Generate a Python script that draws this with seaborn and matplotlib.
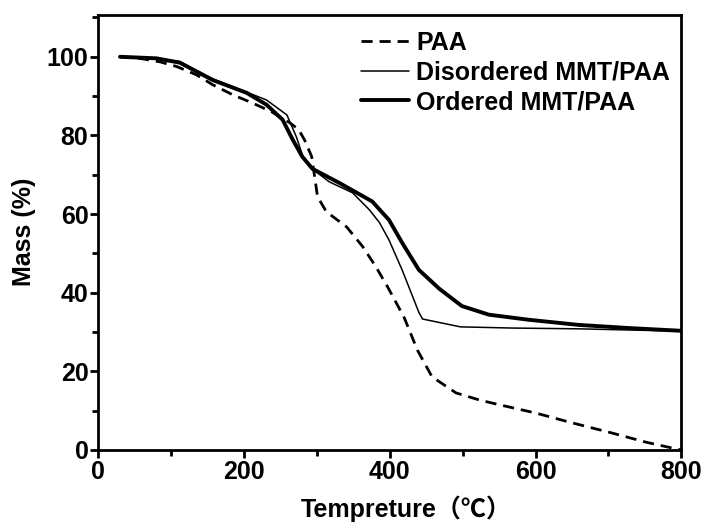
import numpy as np
import pandas as pd
import matplotlib
matplotlib.use("Agg")
import matplotlib.pyplot as plt
import seaborn as sns
from matplotlib.ticker import MultipleLocator

# === Data ===
paa_t = [30, 60, 85, 108, 135, 157, 185, 211, 238, 263, 275, 283, 293, 301, 313, 341,
         363, 381, 397, 409, 420, 438, 458, 491, 523, 550, 600, 650, 705, 751, 787, 800]
paa_m = [100, 99.5, 98.7, 97.5, 95.4, 92.9, 90.3, 88.3, 86.0, 83.2, 81.5, 78.9, 74.6, 64.4, 60.6, 56.7,
         51.7, 46.6, 41.5, 37.4, 33.6, 25.4, 18.6, 14.5, 12.7, 11.5, 9.4, 6.9, 4.3, 2.0, 0.5, 0.0]

dis_t = [30, 80, 112, 157, 204, 231, 259, 272, 281, 290, 317, 349, 372, 386, 399, 417,
         440, 445, 497, 568, 660, 730, 800]
dis_m = [100, 99.6, 98.8, 94.4, 91.0, 89.0, 85.2, 79.6, 74.6, 72.0, 68.2, 65.4, 61.1, 57.8, 53.4, 45.8,
         35.0, 33.3, 31.3, 31.0, 30.8, 30.5, 30.2]

ord_t = [30, 80, 112, 157, 204, 231, 253, 267, 280, 294, 331, 376, 399, 417, 440, 468,
         499, 536, 591, 659, 728, 800]
ord_m = [100, 99.6, 98.5, 94.1, 90.8, 87.8, 84.0, 78.9, 74.6, 71.5, 67.9, 63.2, 58.5, 52.7, 45.8, 41.0,
         36.6, 34.4, 33.1, 31.8, 31.0, 30.3]

labels = ["PAA", "Disordered MMT/PAA", "Ordered MMT/PAA"]

df = pd.concat([
    pd.DataFrame({"T": paa_t, "Mass": paa_m, "Sample": labels[0]}),
    pd.DataFrame({"T": dis_t, "Mass": dis_m, "Sample": labels[1]}),
    pd.DataFrame({"T": ord_t, "Mass": ord_m, "Sample": labels[2]}),
])

# === Style ===
sns.set_style("ticks")
plt.rcParams["font.family"] = ["Liberation Sans", "Noto Sans CJK SC", "DejaVu Sans"]
plt.rcParams["font.weight"] = "bold"
plt.rcParams["axes.linewidth"] = 2.0
for key in ["text.color", "axes.labelcolor", "xtick.color", "ytick.color", "axes.edgecolor"]:
    plt.rcParams[key] = "black"

fig = plt.figure(figsize=(7.06, 5.25), dpi=100)
ax = fig.add_axes([0.139, 0.143, 0.826, 0.829])

styles = {
    labels[0]: dict(lw=2.0, ls=(0, (4, 2.5))),
    labels[1]: dict(lw=1.1, ls="-"),
    labels[2]: dict(lw=2.8, ls="-"),
}
for name in labels:
    sub = df[df["Sample"] == name]
    sns.lineplot(data=sub, x="T", y="Mass", ax=ax, color="black", label=name,
                 estimator=None, sort=False, **styles[name])

ax.set_xlim(0, 800)
ax.set_ylim(0, 110.7)
ax.xaxis.set_major_locator(MultipleLocator(200))
ax.xaxis.set_minor_locator(MultipleLocator(100))
ax.yaxis.set_major_locator(MultipleLocator(20))
ax.yaxis.set_minor_locator(MultipleLocator(10))
ax.tick_params(which="major", direction="out", length=6, width=2, labelsize=18, pad=1)
ax.tick_params(which="minor", direction="out", length=4, width=2)
ax.tick_params(which="both", right=False, top=False)
for lab in ax.get_xticklabels() + ax.get_yticklabels():
    lab.set_fontweight("bold")

ax.set_xlabel("Tempreture（℃）", fontsize=18, fontweight="bold")
ax.xaxis.set_label_coords(0.528, -0.105)
ax.set_ylabel("Mass (%)", fontsize=18, fontweight="bold", labelpad=8)

leg = ax.legend(loc="upper left", bbox_to_anchor=(0.451, 0.962), frameon=False,
                handlelength=1.9, handletextpad=0.3, labelspacing=0.22, borderpad=0,
                borderaxespad=0, prop={"weight": "bold", "size": 18})

fig.savefig("out.png", dpi=100)
